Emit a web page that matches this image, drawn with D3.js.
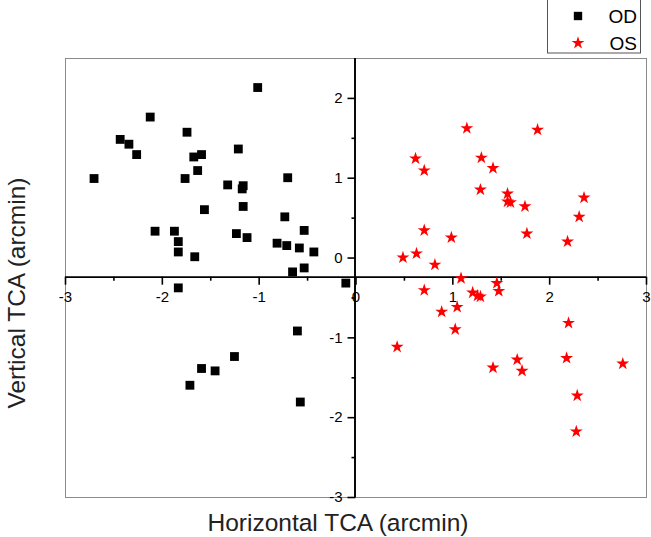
<!DOCTYPE html>
<html>
<head>
<meta charset="utf-8">
<script src="https://cdn.jsdelivr.net/npm/d3@7"></script>
<style>
  html, body { margin: 0; padding: 0; background: #fff; }
  svg { display: block; }
  text { font-family: "Liberation Sans", Arial, sans-serif; }
</style>
</head>
<body>
<svg id="chart" width="651" height="537"></svg>
<script>
// ---- Data ----
const odX = [-1.01,-2.12,-2.43,-2.34,-2.26,-2.70,-1.74,-1.67,-1.59,-1.63,-1.76,-1.21,-1.32,-1.16,-1.17,-0.70,-1.56,-1.16,-0.73,-2.07,-1.87,-1.83,-1.83,-1.66,-1.23,-1.12,-0.81,-0.71,-0.58,-0.53,-0.43,-0.65,-0.53,-1.83,-0.10,-0.60,-1.25,-1.59,-1.45,-1.71,-0.57];
const odY = [2.13,1.76,1.48,1.42,1.29,0.99,1.57,1.26,1.29,1.09,0.99,1.36,0.91,0.90,0.86,1.00,0.60,0.64,0.51,0.33,0.33,0.20,0.07,0.01,0.30,0.25,0.18,0.15,0.12,0.34,0.07,-0.18,-0.13,-0.38,-0.32,-0.92,-1.24,-1.39,-1.42,-1.60,-1.81];
const osX = [1.15,1.88,0.62,0.71,1.30,1.42,1.29,1.57,1.57,1.60,1.75,2.36,2.31,0.71,0.99,1.77,2.19,0.49,0.63,0.82,1.09,1.46,0.71,1.21,1.26,1.29,1.48,0.89,1.05,1.03,2.20,0.43,1.67,1.42,1.72,2.18,2.76,2.29,2.28];
const osY = [1.62,1.60,1.24,1.09,1.25,1.12,0.85,0.80,0.70,0.69,0.64,0.75,0.51,0.34,0.25,0.30,0.20,0.00,0.05,-0.09,-0.26,-0.32,-0.41,-0.44,-0.48,-0.49,-0.42,-0.68,-0.62,-0.90,-0.82,-1.12,-1.28,-1.38,-1.42,-1.26,-1.33,-1.73,-2.18];
const xTicks = [-3,-2,-1,0,1,2,3];
const xMinor = [-2.5,-1.5,-0.5,0.5,1.5,2.5];
const yTicks = [-3,-2,-1,0,1,2];
const yMinor = [-2.5,-1.5,-0.5,0.5,1.5];
const xAxisAt = -0.24;   // value on the y axis where the horizontal axis crosses
const seriesNames = ["OD","OS"];
const xTitle = "Horizontal TCA (arcmin)";
const yTitle = "Vertical TCA (arcmin)";

// ---- Layout ----
const svg = d3.select("#chart");
const pL = 65, pR = 646, pT = 58, pB = 497;
const x = d3.scaleLinear().domain([-3, 3]).range([pL, pR]);
const y = d3.scaleLinear().domain([-3, 2.5]).range([pB, pT]);

svg.append("rect").attr("width", 651).attr("height", 537).attr("fill", "#fff");

// frame
svg.append("rect")
  .attr("x", pL + 0.5).attr("y", pT + 0.5)
  .attr("width", pR - pL).attr("height", pB - pT)
  .attr("fill", "none").attr("stroke", "#8a8a8a").attr("stroke-width", 1);

// x axis (crossing at y = xAxisAt)
const gx = svg.append("g").attr("transform", `translate(0,${y(xAxisAt)})`);
gx.call(d3.axisBottom(x).tickValues(xTicks).tickSize(8).tickPadding(7).tickFormat(d => String(d)));
gx.append("g").call(d3.axisBottom(x).tickValues(xMinor).tickSize(4).tickFormat(""));
gx.selectAll(".domain").attr("stroke", "#000").attr("stroke-width", 1.6);
gx.selectAll("line").attr("stroke", "#000").attr("stroke-width", 1.6);
gx.selectAll("text").attr("font-size", 15).attr("fill", "#000")
  .attr("font-family", '"Liberation Sans", Arial, sans-serif');

// y axis (crossing at x = 0)
const gy = svg.append("g").attr("transform", `translate(${x(0)},0)`);
gy.call(d3.axisLeft(y).tickValues(yTicks).tickSize(8).tickPadding(5).tickFormat(d => String(d)));
gy.append("g").call(d3.axisLeft(y).tickValues(yMinor).tickSize(4).tickFormat(""));
gy.selectAll(".domain").attr("stroke", "#000").attr("stroke-width", 1.6);
gy.selectAll("line").attr("stroke", "#000").attr("stroke-width", 1.6);
gy.selectAll("text").attr("font-size", 15).attr("fill", "#000")
  .attr("font-family", '"Liberation Sans", Arial, sans-serif');
// plain axis lines without outer ticks
gx.selectAll(".domain").attr("d", `M${pL},0.5H${pR}`);
gy.selectAll(".domain").attr("d", `M-0.5,${pT}V${pB}`);

// data
const od = odX.map((v, i) => ({x: v, y: odY[i]}));
const os = osX.map((v, i) => ({x: v, y: osY[i]}));
const sq = d3.symbol().type(d3.symbolSquare).size(78);
const st = d3.symbol().type(d3.symbolStar).size(52);

svg.append("g").selectAll("path").data(od).join("path")
  .attr("d", sq).attr("transform", d => `translate(${x(d.x)},${y(d.y)})`)
  .attr("fill", "#000");
svg.append("g").selectAll("path").data(os).join("path")
  .attr("d", st).attr("transform", d => `translate(${x(d.x)},${y(d.y)})`)
  .attr("fill", "#ff0000");

// axis titles
svg.append("text").attr("x", 338).attr("y", 531).attr("text-anchor", "middle")
  .attr("font-size", 24.5).attr("fill", "#222").text(xTitle);
svg.append("text").attr("transform", "translate(25,293) rotate(-90)")
  .attr("text-anchor", "middle").attr("font-size", 24.5).attr("fill", "#222").text(yTitle);

// legend
const lg = svg.append("g");
lg.append("rect").attr("x", 547.5).attr("y", -1).attr("width", 93).attr("height", 54)
  .attr("fill", "#fff").attr("stroke", "#555").attr("stroke-width", 1);
lg.append("path").attr("d", d3.symbol().type(d3.symbolSquare).size(70))
  .attr("transform", "translate(578,16)").attr("fill", "#000");
lg.append("path").attr("d", d3.symbol().type(d3.symbolStar).size(52))
  .attr("transform", "translate(578,43)").attr("fill", "#ff0000");
lg.append("text").attr("x", 637).attr("y", 23).attr("text-anchor", "end")
  .attr("font-size", 19).attr("fill", "#000").text(seriesNames[0]);
lg.append("text").attr("x", 637).attr("y", 50).attr("text-anchor", "end")
  .attr("font-size", 19).attr("fill", "#000").text(seriesNames[1]);
</script>
</body>
</html>
